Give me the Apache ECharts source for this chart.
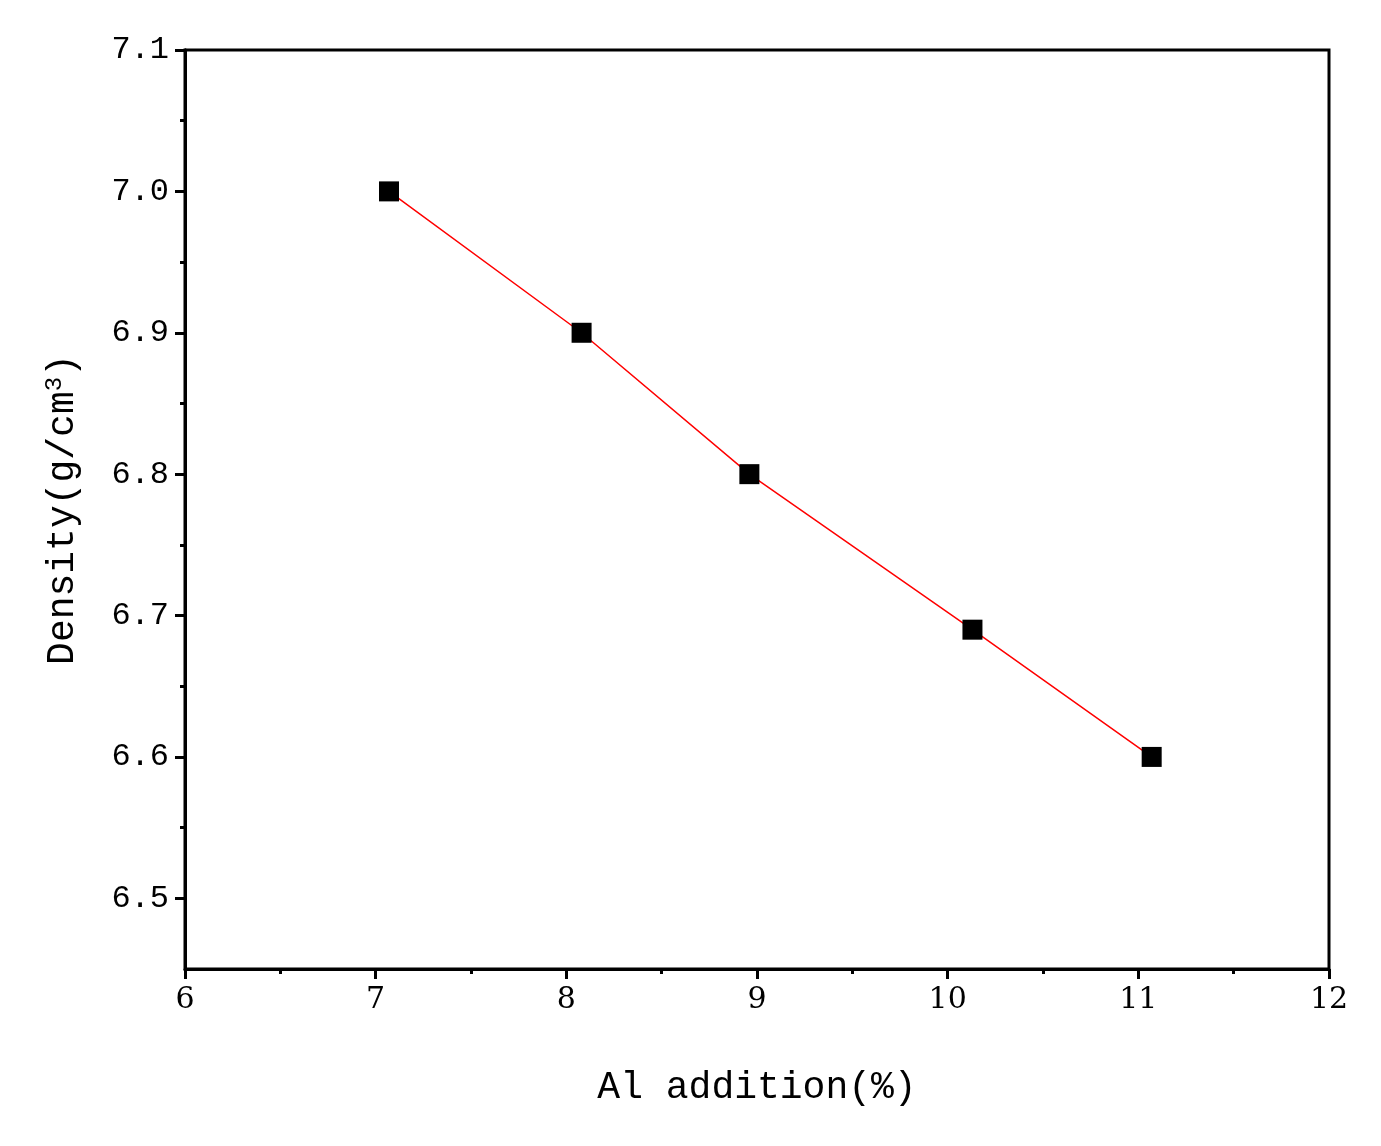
<!DOCTYPE html>
<html><head><meta charset="utf-8">
<script src="https://cdn.jsdelivr.net/npm/echarts@6/dist/echarts.min.js"></script>
<style>html,body{margin:0;padding:0;background:#fff}#c{width:1381px;height:1146px}</style>
</head><body><div id="c"></div>
<script>
// data
var alAddition = [7.07, 8.08, 8.96, 10.13, 11.07];
var density = [7.0, 6.9, 6.8, 6.69, 6.6];
var yLabels = [6.5, 6.6, 6.7, 6.8, 6.9, 7.0, 7.1];
var yMinor = [6.55, 6.65, 6.75, 6.85, 6.95, 7.05];

var font = '"DejaVu Serif", "Liberation Serif", serif';
var mono = '"Liberation Mono", "DejaVu Sans Mono", monospace';
var chart = echarts.init(document.getElementById('c'));
var yBase = {
    type: 'value', min: 6.45, max: 7.1,
    axisLine: { show: true, lineStyle: { color: '#000', width: 3 } },
    splitLine: { show: false }
};
chart.setOption({
    animation: false,
    grid: { left: 185, right: 52, top: 50, bottom: 177, show: true, borderColor: '#000', borderWidth: 3 },
    xAxis: {
        type: 'value', min: 6, max: 12, interval: 1,
        axisLine: { lineStyle: { color: '#000', width: 3 } },
        axisTick: { length: 10, lineStyle: { width: 3 } },
        minorTick: { show: true, splitNumber: 2, length: 5, lineStyle: { color: '#000', width: 3 } },
        splitLine: { show: false },
        axisLabel: { color: '#000', fontSize: 30, fontFamily: font, margin: 16 },
        name: 'Al addition(%)', nameLocation: 'middle', nameGap: 100,
        nameTextStyle: { color: '#000', fontSize: 38, fontFamily: mono }
    },
    yAxis: [
        Object.assign({}, yBase, {
            axisTick: { length: 10, customValues: yLabels, lineStyle: { width: 3 } },
            axisLabel: {
                color: '#000', fontSize: 32, fontFamily: mono, margin: 16,
                customValues: yLabels,
                formatter: function (v) { return v.toFixed(1); }
            },
            name: '{a|Density(g/cm}{s|3}{a|)}', nameLocation: 'middle', nameGap: 102, nameRotate: 90,
            nameTextStyle: {
                rich: {
                    a: { color: '#000', fontSize: 38, fontFamily: mono },
                    s: { color: '#000', fontSize: 24, fontFamily: mono, verticalAlign: 'top', padding: [0, 0, 16, 0] }
                }
            }
        }),
        Object.assign({}, yBase, {
            position: 'left',
            axisTick: { length: 5, customValues: yMinor, lineStyle: { width: 3 } },
            axisLabel: { show: false }
        })
    ],
    series: [{
        type: 'line',
        data: alAddition.map(function (x, i) { return [x, density[i]]; }),
        lineStyle: { color: '#ff0000', width: 1.5 },
        symbol: 'rect', symbolSize: 20,
        itemStyle: { color: '#000' }
    }]
});
</script>
</body></html>
